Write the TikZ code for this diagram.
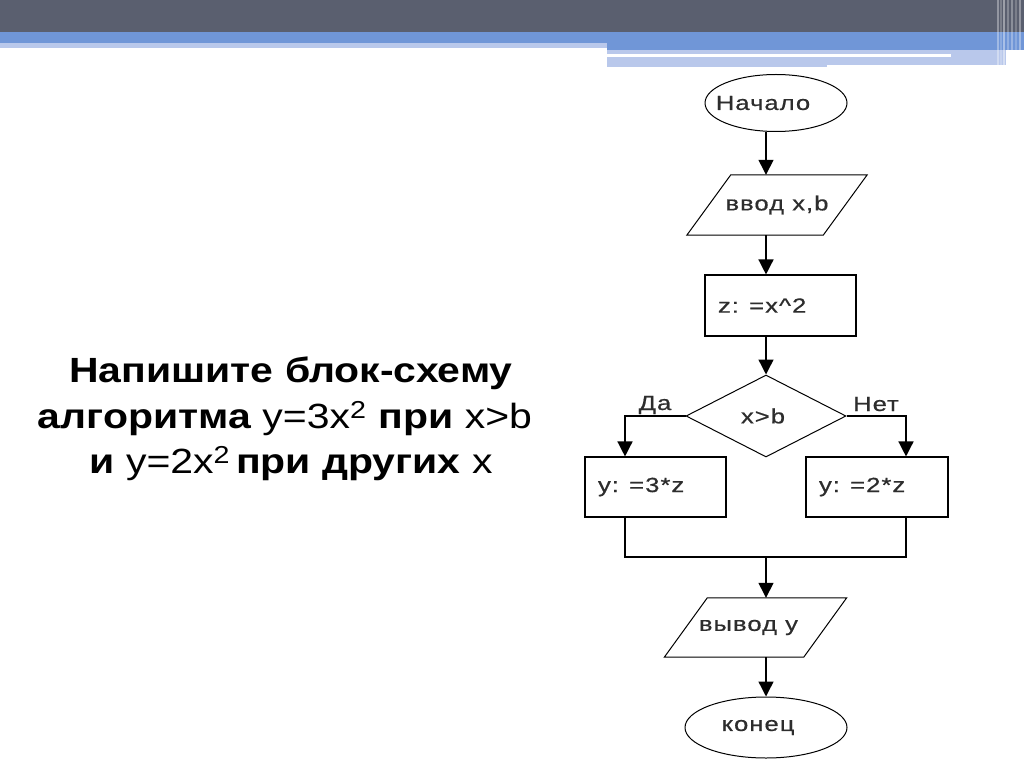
\documentclass[tikz,border=0pt]{standalone}
\usepackage{fontspec}
\setmainfont{Liberation Sans}
\newfontfamily\titlefont[FakeStretch=1.17]{Liberation Sans}
\newfontfamily\fcfont[FakeStretch=1.25,LetterSpace=5,FakeBold=0.6]{Liberation Sans}
\usetikzlibrary{shapes.geometric,arrows.meta}
\definecolor{bardark}{RGB}{90,95,111}
\definecolor{barblue}{RGB}{112,150,215}
\definecolor{barlight}{RGB}{185,200,235}
\definecolor{fctext}{RGB}{45,45,45}
\tikzset{
  fc/.style={font=\fcfont\fontsize{20.5}{24}\selectfont, text=fctext, inner sep=0pt},
  term/.style={fc, ellipse, draw, line width=1pt},
  proc/.style={fc, rectangle, draw, line width=1.1pt, align=left, inner xsep=13pt},
  dec/.style={fc, diamond, draw, line width=1pt},
  io/.style={fc, rectangle},
  arr/.style={line width=1.4pt, -{Triangle[width=15pt,length=15pt]}},
  ln/.style={line width=1.4pt},
  ttl/.style={font=\titlefont\fontsize{35}{45}\selectfont, text=black, anchor=base, inner sep=0pt}
}
\begin{document}
\begin{tikzpicture}[x=1pt,y=-1pt]
\useasboundingbox (0,0) rectangle (1024,767);
\fill[white] (0,0) rectangle (1024,767);
% top bar
\fill[bardark] (0,0) rectangle (1024,32);
\fill[barblue] (0,32) rectangle (1024,43);
\fill[barlight] (0,43) rectangle (607,48);
\fill[barblue] (607,43) rectangle (1024,50);
\fill[barlight] (607,50) rectangle (1006,54);
\fill[barlight] (951,54) rectangle (1006,57);
\fill[barlight] (607,57) rectangle (827,67);
\fill[barlight] (827,57) rectangle (1006,65);
\foreach \xx/\op in {997/0.35,1000/0.2,1003/0.4,1007/0.25,1011/0.3,1015/0.2,1019/0.35}
  \fill[white,opacity=\op] (\xx,0) rectangle (\xx+1.5,65);
% title
\node[ttl] (t1) at (291,382) {\bfseries Напишите блок-схему};
\node[ttl] (t2) at (285,428) {\bfseries алгоритма \mdseries y=3x\textsuperscript{2}\hspace{12pt}\bfseries при \mdseries x>b};
\node[ttl] (t3) at (291,473) {\bfseries и \mdseries y=2x\textsuperscript{2}\hspace{6pt}\bfseries при других \mdseries x};
% flowchart
\coordinate (axis) at (766,0);
\coordinate (ly) at (625,0);
\coordinate (ry) at (906,0);
\node[term, minimum width=142pt, minimum height=57pt] (start) at (776,103) {\makebox[0pt]{Начало\hspace*{26pt}}};
\node[io, minimum width=136pt, minimum height=60pt] (in) at (777,205) {ввод x,b};
\draw[line width=1pt] ([xshift=22pt]in.north west) -- ([xshift=22pt]in.north east)
  -- ([xshift=-22pt]in.south east) -- ([xshift=-22pt]in.south west) -- cycle;
\node[proc, minimum height=61pt, text width=125pt] (z) at (780.5,305.5) {z: =x\^{}2};
\node[dec, minimum width=160pt, minimum height=82pt] (cond) at (766,416) {x>b\hspace*{6pt}};
\node[proc, minimum height=60pt, text width=115pt] (yes) at (655.5,487) {y: =3*z};
\node[proc, minimum height=60pt, text width=116pt] (no) at (877,487) {y: =2*z};
\node[io, minimum width=139pt, minimum height=59pt] (out) at (755.5,627.5) {вывод y\hspace*{14pt}};
\draw[line width=1pt] ([xshift=21.5pt]out.north west) -- ([xshift=21.5pt]out.north east)
  -- ([xshift=-21.5pt]out.south east) -- ([xshift=-21.5pt]out.south west) -- cycle;
\node[term, minimum width=162pt, minimum height=61pt] (end) at (766,727.5) {\makebox[0pt]{конец\hspace*{16pt}}};
\coordinate (m) at (766,557);
\node[fc, anchor=base] (da) at (655,410) {Да};
\node[fc, anchor=base] (net) at (876,411) {Нет};
% connectors
\draw[arr] (start.south -| axis) -- (in.north -| axis);
\draw[arr] (in.south -| axis) -- (z.north -| axis);
\draw[arr] (z.south -| axis) -- (cond.north);
\draw[arr] (cond.west) -| (yes.north -| ly);
\draw[arr] (cond.east) -| (no.north -| ry);
\draw[ln] (yes.south -| ly) |- (m) -| (no.south -| ry);
\draw[arr] (m) -- (out.north -| axis);
\draw[arr] (out.south -| axis) -- (end.north);
\end{tikzpicture}
\end{document}
